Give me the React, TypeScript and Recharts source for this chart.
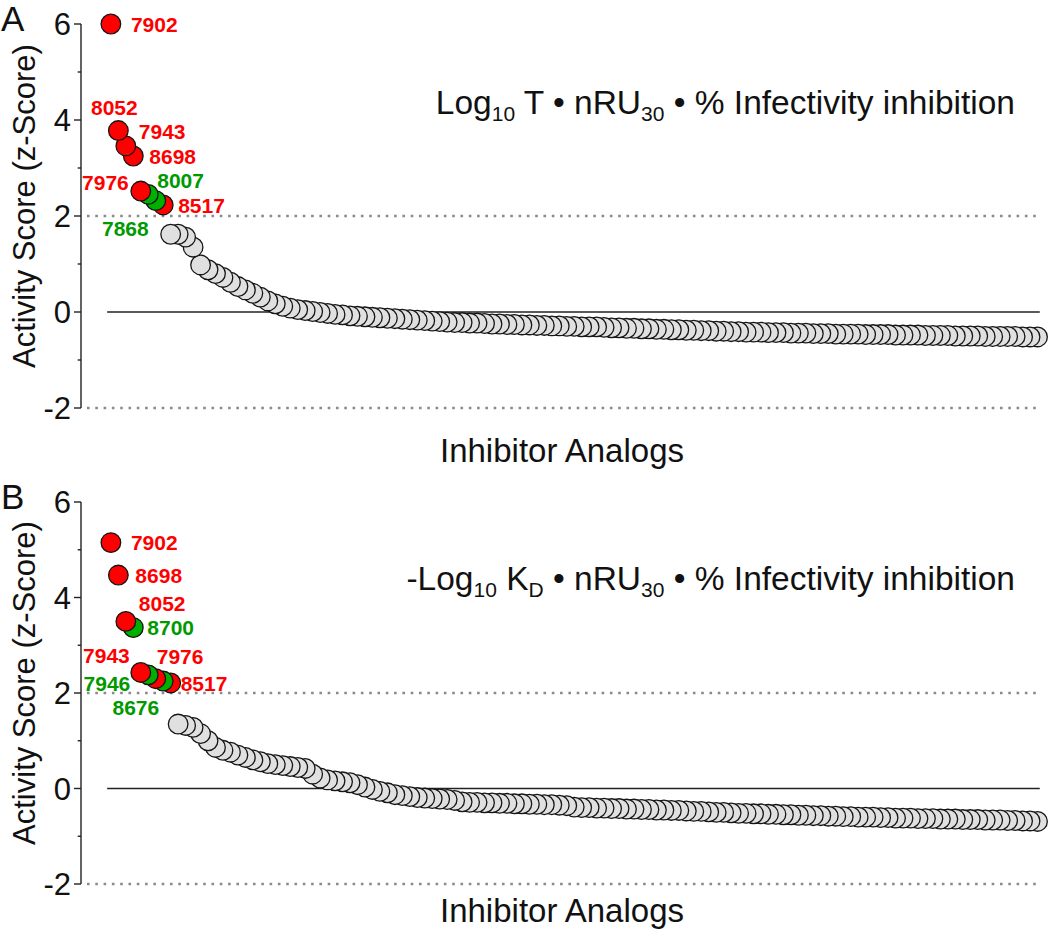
import React from "react";
import { ScatterChart, Scatter, XAxis, YAxis, ReferenceLine } from "recharts";

const FONT = '"Liberation Sans", Arial, Helvetica, sans-serif';

// ---- panel A : Log10 T • nRU30 • % inhibition ----
const hitIdsA = ["7902", "8052", "7943", "8698", "7976", "8007", "7868", "8517"];
const hitScoreA = [6.0, 3.78, 3.46, 3.25, 2.52, 2.45, 2.32, 2.23];
const hitKindA = ["red", "red", "red", "red", "red", "green", "green", "red"];
const restScoreA = [
  1.62, 1.62, 1.56, 1.35, 0.98, 0.88, 0.8, 0.72, 0.62, 0.53,
  0.46, 0.39, 0.31, 0.23, 0.17, 0.12, 0.08, 0.05, 0.03, 0.01,
  -0.01, -0.03, -0.05, -0.06, -0.08, -0.09, -0.1, -0.11, -0.12, -0.13,
  -0.14, -0.15, -0.16, -0.17, -0.18, -0.19, -0.2, -0.21, -0.22,
  -0.22, -0.23, -0.23, -0.24, -0.25, -0.25, -0.26, -0.26, -0.27, -0.27,
  -0.28, -0.28, -0.29, -0.29, -0.3, -0.3, -0.31, -0.31, -0.31,
  -0.32, -0.33, -0.33, -0.34, -0.34, -0.35, -0.35, -0.36, -0.36, -0.37,
  -0.37, -0.38, -0.38, -0.39, -0.39, -0.4, -0.4, -0.41, -0.41,
  -0.42, -0.42, -0.42, -0.43, -0.43, -0.43, -0.44, -0.44, -0.44, -0.45,
  -0.45, -0.45, -0.46,
  -0.46, -0.46, -0.46, -0.47, -0.47, -0.47, -0.47, -0.48, -0.48, -0.48,
  -0.48, -0.49, -0.49, -0.49, -0.49, -0.5, -0.5, -0.5, -0.5, -0.51,
  -0.51, -0.51, -0.51, -0.51, -0.52, -0.52, -0.52,
];

// ---- panel B : -Log10 KD • nRU30 • % inhibition ----
const hitIdsB = ["7902", "8698", "8052", "8700", "7943", "7946", "7976", "8676", "8517"];
const hitScoreB = [5.15, 4.47, 3.5, 3.37, 2.43, 2.38, 2.3, 2.25, 2.21];
const hitKindB = ["red", "red", "red", "green", "red", "green", "red", "green", "red"];
const restScoreB = [
  1.35, 1.32, 1.28, 1.15, 1.0, 0.86, 0.8, 0.76, 0.7, 0.65,
  0.6, 0.56, 0.52, 0.5, 0.48, 0.46, 0.44, 0.42, 0.3, 0.22,
  0.18, 0.16, 0.14, 0.12, 0.08, 0.03, -0.02, -0.06, -0.09, -0.13,
  -0.15, -0.17, -0.19, -0.2, -0.21, -0.22, -0.23, -0.25,
  -0.28, -0.29, -0.29, -0.3, -0.3, -0.31, -0.31, -0.32, -0.32, -0.33,
  -0.33, -0.34, -0.34, -0.35, -0.36,
  -0.39, -0.4, -0.4, -0.41, -0.41, -0.42, -0.42, -0.43, -0.43, -0.44,
  -0.44, -0.45, -0.45, -0.46, -0.46, -0.47, -0.48, -0.48, -0.49, -0.5,
  -0.5, -0.51, -0.52,
  -0.52, -0.53, -0.53, -0.54, -0.54, -0.55, -0.55, -0.56, -0.56, -0.57,
  -0.57, -0.58, -0.58, -0.59, -0.59, -0.6, -0.6, -0.6, -0.61, -0.61,
  -0.62, -0.62, -0.62, -0.63, -0.63, -0.63, -0.64, -0.64, -0.64, -0.65,
  -0.65, -0.65, -0.66, -0.66, -0.66, -0.67, -0.67, -0.68, -0.68, -0.69,
];

const yTicks = [-2, -1, 0, 1, 2, 3, 4, 5, 6];

// where each hit label sits relative to its dot
type LabelPos = { dx: number; dy: number; anchor: "start" | "middle" | "end" };
const labelPosA: Record<string, LabelPos> = {
  "7902": { dx: 20, dy: 0, anchor: "start" },
  "8052": { dx: -4, dy: -23, anchor: "middle" },
  "7943": { dx: 13, dy: -14, anchor: "start" },
  "8698": { dx: 16, dy: 0, anchor: "start" },
  "7976": { dx: -12, dy: -9, anchor: "end" },
  "8007": { dx: 9, dy: -14, anchor: "start" },
  "7868": { dx: -7, dy: 28, anchor: "end" },
  "8517": { dx: 15, dy: 0, anchor: "start" },
};
const labelPosB: Record<string, LabelPos> = {
  "7902": { dx: 20, dy: 0, anchor: "start" },
  "8698": { dx: 17, dy: 0, anchor: "start" },
  "8052": { dx: 13, dy: -18, anchor: "start" },
  "8700": { dx: 14, dy: 0, anchor: "start" },
  "7943": { dx: -11, dy: -17, anchor: "end" },
  "7946": { dx: -18, dy: 9, anchor: "end" },
  "7976": { dx: 1, dy: -22, anchor: "start" },
  "8676": { dx: -4, dy: 26, anchor: "end" },
  "8517": { dx: 10, dy: 0, anchor: "start" },
};

const FILL: Record<string, string> = { red: "#ff0000", green: "#00b000", gray: "#e0e0e0" };
const TEXT: Record<string, string> = { red: "#ff0000", green: "#009a00" };

interface Row {
  i: number;
  v: number;
  kind: string;
  id?: string;
}

function buildRows(ids: string[], scores: number[], kinds: string[], rest: number[]): Row[] {
  const hits = scores.map((v, i) => ({ i, v, kind: kinds[i], id: ids[i] }));
  const others = rest.map((v, j) => ({ i: scores.length + j, v, kind: "gray" }));
  return [...hits, ...others];
}

const rowsA = buildRows(hitIdsA, hitScoreA, hitKindA, restScoreA);
const rowsB = buildRows(hitIdsB, hitScoreB, hitKindB, restScoreB);

function Dot(props: any) {
  const { cx, cy, payload } = props;
  return <circle cx={cx} cy={cy} r={9.8} fill={FILL[payload.kind]} stroke="#151515" strokeWidth={1.3} />;
}

function YTick(props: any) {
  const { x, y, payload } = props;
  const major = payload.value % 2 === 0;
  // x is the text anchor; axis line is 10px to the right
  return (
    <g>
      <line x1={x + (major ? 3 : 6.7)} x2={x + 10} y1={y} y2={y} stroke="#222" strokeWidth={1.4} />
      {major && (
        <text x={x} y={y} dy="0.36em" textAnchor="end" fontSize={31} fontFamily={FONT} fill="#111">
          {payload.value}
        </text>
      )}
    </g>
  );
}

function Panel({
  rows,
  labelPos,
  height,
  margin,
  letter,
  title,
  xLabelDrop,
}: {
  rows: Row[];
  labelPos: Record<string, LabelPos>;
  height: number;
  margin: { top: number; right: number; bottom: number; left: number };
  letter: string;
  title: React.ReactNode;
  xLabelDrop: number;
}) {
  const plotH = height - margin.top - margin.bottom;
  const midY = margin.top + plotH / 2 - 10;
  const hits = rows.filter((r) => r.id);
  const LabelShape = (p: any) => {
    const pos = labelPos[p.payload.id];
    return (
      <text
        x={p.cx + pos.dx}
        y={p.cy + pos.dy}
        dy="0.36em"
        textAnchor={pos.anchor}
        fontSize={21}
        fontWeight="bold"
        fontFamily={FONT}
        fill={TEXT[p.payload.kind]}
      >
        {p.payload.id}
      </text>
    );
  };
  return (
    <ScatterChart width={1050} height={height} margin={margin}>
      <XAxis type="number" dataKey="i" domain={[-4, 125]} hide />
      <YAxis
        type="number"
        dataKey="v"
        domain={[-2, 6]}
        ticks={yTicks}
        interval={0}
        width={81}
        tickSize={7}
        tickMargin={3}
        tickLine={false}
        axisLine={{ stroke: "#222", strokeWidth: 1.4 }}
        tick={<YTick />}
      />
      <ReferenceLine
        segment={[{ x: -3.2, y: 2 }, { x: 124.3, y: 2 }]}
        stroke="#8a8a8a"
        strokeWidth={2.6}
        strokeDasharray="2.6 5.7"
      />
      <ReferenceLine
        segment={[{ x: -3.2, y: -2 }, { x: 124.3, y: -2 }]}
        stroke="#8a8a8a"
        strokeWidth={2.6}
        strokeDasharray="2.6 5.7"
      />
      <ReferenceLine segment={[{ x: -0.5, y: 0 }, { x: 124.3, y: 0 }]} stroke="#222" strokeWidth={1.5} />
      <Scatter data={[...rows].reverse()} shape={<Dot />} isAnimationActive={false} />
      <Scatter data={hits} shape={LabelShape} isAnimationActive={false} />
      <text x={1} y={margin.top + 7} fontSize={35} fontFamily={FONT} fill="#111">
        {letter}
      </text>
      <text
        x={35}
        y={midY}
        transform={`rotate(-90, 35, ${midY})`}
        textAnchor="middle"
        fontSize={31}
        fontFamily={FONT}
        fill="#111"
      >
        Activity Score (z-Score)
      </text>
      <text
        x={562}
        y={margin.top + plotH + xLabelDrop}
        textAnchor="middle"
        fontSize={33}
        fontFamily={FONT}
        fill="#111"
      >
        Inhibitor Analogs
      </text>
      {title}
    </ScatterChart>
  );
}

const SUB = 21;

export default function App() {
  return (
    <div style={{ position: "absolute", left: 0, top: 0, width: 1050, height: 942, background: "#fff" }}>
      <Panel
        rows={rowsA}
        labelPos={labelPosA}
        height={470}
        margin={{ top: 24, right: 5, bottom: 62, left: 0 }}
        letter="A"
        xLabelDrop={54}
        title={
          <text x={1015} y={114} textAnchor="end" fontSize={33.5} fontFamily={FONT} fill="#111">
            Log
            <tspan fontSize={SUB} dy={7}>10</tspan>
            <tspan dy={-7}>{" T • nRU"}</tspan>
            <tspan fontSize={SUB} dy={7}>30</tspan>
            <tspan dy={-7}>{" • % Infectivity inhibition"}</tspan>
          </text>
        }
      />
      <Panel
        rows={rowsB}
        labelPos={labelPosB}
        height={472}
        margin={{ top: 32, right: 5, bottom: 58, left: 0 }}
        letter="B"
        xLabelDrop={38}
        title={
          <text x={1015} y={120} textAnchor="end" fontSize={33.5} fontFamily={FONT} fill="#111">
            -Log
            <tspan fontSize={SUB} dy={7}>10</tspan>
            <tspan dy={-7}>{" K"}</tspan>
            <tspan fontSize={SUB} dy={7}>D</tspan>
            <tspan dy={-7}>{" • nRU"}</tspan>
            <tspan fontSize={SUB} dy={7}>30</tspan>
            <tspan dy={-7}>{" • % Infectivity inhibition"}</tspan>
          </text>
        }
      />
    </div>
  );
}
